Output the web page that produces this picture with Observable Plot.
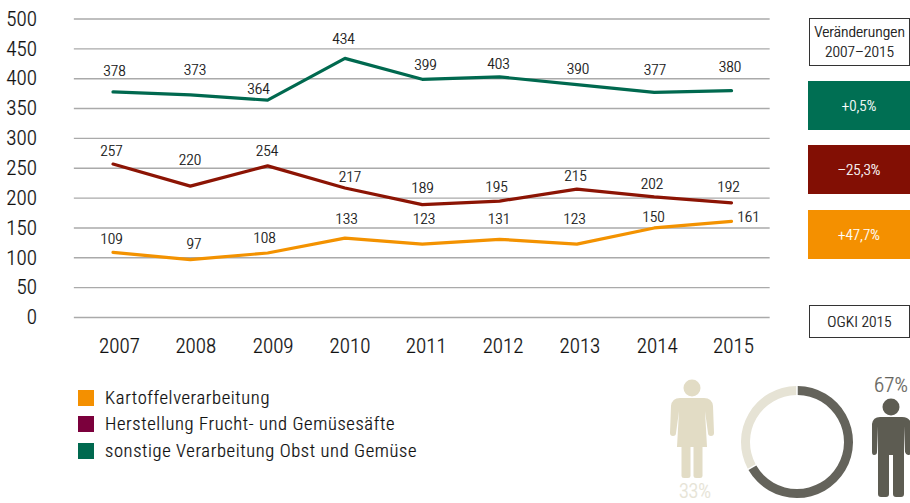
<!DOCTYPE html>
<html lang="de"><head><meta charset="utf-8">
<script src="https://cdn.jsdelivr.net/npm/d3@7"></script>
<script src="https://cdn.jsdelivr.net/npm/@observablehq/plot@0.6"></script>
<style>
html,body{margin:0;padding:0;background:#fff}
#wrap{position:relative;width:910px;height:503px;overflow:hidden;font-family:"Liberation Sans Narrow","Roboto Condensed","Liberation Sans",sans-serif;font-weight:300;color:#111;-webkit-text-stroke:.22px currentColor}
#wrap svg{position:absolute;left:0;top:0;display:block}
.box{position:absolute;box-sizing:border-box;display:flex;align-items:center;justify-content:center;text-align:center;white-space:pre-line}
.sw{position:absolute;width:16px;height:16px}
.lg{position:absolute;left:105px;font-size:18.5px;line-height:20px;letter-spacing:.63px;white-space:nowrap}
</style></head><body><div id="wrap"></div>
<script>
const years = [2007,2008,2009,2010,2011,2012,2013,2014,2015];
const sonstige = [378,373,364,434,399,403,390,377,380];
const saefte = [257,220,254,217,189,195,215,202,192];
const kartoffel = [109,97,108,133,123,131,123,150,161];
const yTicks = [0,50,100,150,200,250,300,350,400,450,500];
const legendLabels = ["Kartoffelverarbeitung","Herstellung Frucht- und Gemüsesäfte","sonstige Verarbeitung Obst und Gemüse"];
const changes = ["+0,5%","–25,3%","+47,7%"];
const genderShare = [67,33];

const font = '"Liberation Sans Narrow","Roboto Condensed","Liberation Sans",sans-serif';
const colors = {s:"#00694f", f:"#8c1404", k:"#f39200"};
const toRows = (arr) => arr.map((v,i)=>({year:years[i], v}));

// label nudges in pixels, per series, in year order
const nudgeS = [[1.5,-20.6],[4.7,-24.8],[-9.1,-10.7],[-1.4,-19.4],[3.3,-13.8],[-1.1,-12.9],[1.1,-15.2],[0.8,-22.4],[-1.5,-23.6]];
const nudgeF = [[-1.5,-13],[-0.3,-25.7],[-0.6,-14.4],[5.1,-11],[0.3,-16.2],[-3.1,-13.6],[-1.4,-13.6],[-2.2,-12.4],[-3,-15.9]];
const nudgeK = [[-1.5,-13.4],[3.7,-15.1],[-3.1,-14.5],[1.6,-19.1],[1.75,-24.6],[-0.6,-19.8],[-2.4,-24.6],[-0.7,-10.5],[17,-3.9]];
const textStyle = {fontWeight:300, fill:"#111", stroke:"#111", strokeWidth:0.22};
const labels = (arr,nudge)=>arr.map((v,i)=>Plot.text([{year:years[i],v}],{x:"year",y:"v",text:d=>String(d.v),dx:nudge[i][0],dy:nudge[i][1],fontSize:15.5,...textStyle}));
const yearNudge = [6.5,5.5,5.5,5,4,3.5,3,3,2];

// Pictograms and ring, drawn as one custom mark
function sidePanel(index, scales, values, dims, context){
  const g = d3.create("svg:g");
  const ring = d3.arc().innerRadius(47).outerRadius(56);
  const pie = d3.pie().sort(null).value(d=>d).padAngle(0.02)(genderShare);
  const cols = ["#64635b","#e6e3d5"];
  const rg = g.append("g").attr("transform","translate(797,442)");
  pie.forEach((p,i)=>rg.append("path").attr("d",ring(p)).attr("fill",cols[i]));
  // woman
  const w = g.append("g").attr("fill","#e2dcc5");
  w.append("circle").attr("cx",692).attr("cy",388).attr("r",8.5);
  w.append("path").attr("d","M680 398H704Q712 398 713 406L714 433Q714 436 711 436Q708 436 708 433L705 411L707 447H702.5V476Q702.5 478 700 478H696Q693.5 478 693.5 476V447H690.5V476Q690.5 478 688 478H684Q681.5 478 681.5 476V447H677L679 411L676 433Q676 436 673 436Q670 436 670 433L671 406Q672 398 680 398Z");
  // man
  const m = g.append("g").attr("fill","#5d5c52");
  m.append("circle").attr("cx",891).attr("cy",407).attr("r",8.5);
  m.append("path").attr("d","M880 417H902Q910 417 911 424V452Q911 455 908 455Q906 455 905 452L904 426V494Q904 497 901 497H896Q893 497 893 494V455H889V494Q889 497 886 497H881Q878 497 878 494V426L877 452Q877 455 874 455Q872 455 872 452V424Q873 417 880 417Z");
  return g.node();
}

const chart = Plot.plot({
  width:910, height:503, margin:0,
  style:{fontFamily:font, background:"transparent", overflow:"visible"},
  x:{domain:[2007,2015], range:[112.5,731], axis:null},
  y:{domain:[0,500], range:[317,18.5], axis:null},
  marks:[
    Plot.ruleY(yTicks,{y:d=>d,x1:()=>2006.5,x2:()=>2015.5,stroke:"#aaaaaa",strokeWidth:1.4}),
    Plot.text(yTicks,{y:d=>d,x:()=>2007,text:d=>String(d),textAnchor:"end",dx:-76,fontSize:21,...textStyle}),
    ...years.map((yr,i)=>Plot.text([yr],{x:d=>d,y:()=>0,text:d=>String(d),dx:yearNudge[i],dy:29,fontSize:21,...textStyle})),
    Plot.line(toRows(sonstige),{x:"year",y:"v",stroke:colors.s,strokeWidth:3.2}),
    Plot.line(toRows(saefte),{x:"year",y:"v",stroke:colors.f,strokeWidth:3.2}),
    Plot.line(toRows(kartoffel),{x:"year",y:"v",stroke:colors.k,strokeWidth:3.2}),
    ...labels(sonstige,nudgeS),...labels(saefte,nudgeF),...labels(kartoffel,nudgeK),
    sidePanel
  ]
});
const wrap = document.getElementById("wrap");
wrap.appendChild(chart);

function box(x,y,w,h,txt,opts){
  const d=document.createElement("div");d.className="box";d.textContent=txt;
  Object.assign(d.style,{left:x+"px",top:y+"px",width:w+"px",height:h+"px"},opts);wrap.appendChild(d);
}
box(809,18,101,48,"Veränderungen\n2007–2015",{border:"1px solid #333",fontSize:"15.5px",lineHeight:"20px",background:"#fff"});
box(808,81,102,49,changes[0],{background:"#006f53",color:"#fff",fontSize:"15px"});
box(808,145,102,49,changes[1],{background:"#820f04",color:"#fff",fontSize:"15px"});
box(808,210,102,49,changes[2],{background:"#f49000",color:"#fff",fontSize:"15px"});
box(809,305,101,33,"OGKI 2015",{border:"1px solid #333",fontSize:"15.5px",background:"#fff"});
[["#f49000",390],["#7b003c",416],["#00694f",443]].forEach(([c,y],i)=>{
  const s=document.createElement("div");s.className="sw";s.style.cssText=`left:78px;top:${y}px;background:${c}`;wrap.appendChild(s);
  const t=document.createElement("div");t.className="lg";t.style.top=(y-2)+"px";t.textContent=legendLabels[i];wrap.appendChild(t);
});
[["67%",891,385,"#64635b",21],["33%",695,491,"#e6e3d5",20]].forEach(([s,x,y,c,fs])=>{
  const t=document.createElement("div");t.textContent=s;
  t.style.cssText=`position:absolute;left:${x-30}px;width:60px;text-align:center;top:${y-12}px;font-size:${fs}px;line-height:24px;color:${c}`;wrap.appendChild(t);
});
</script></body></html>
